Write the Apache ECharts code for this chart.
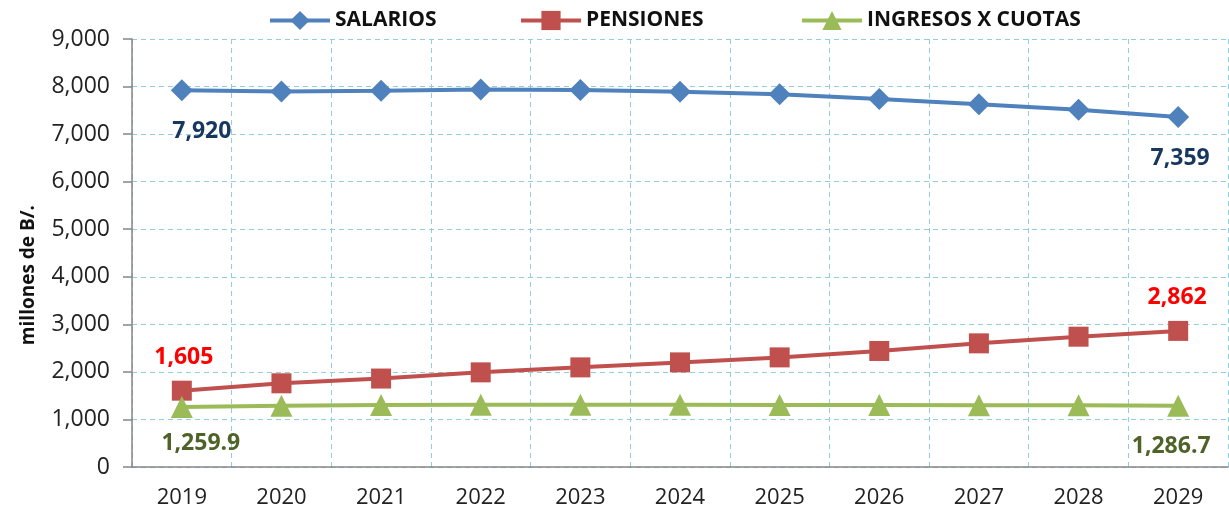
<!DOCTYPE html>
<html>
<head>
<meta charset="utf-8">
<script src="https://cdn.jsdelivr.net/npm/echarts@6/dist/echarts.min.js"></script>
<style>
  html,body{margin:0;padding:0;background:#fff;}
  #main{width:1229px;height:513px;}
</style>
</head>
<body>
<div id="main"></div>
<script>
// datos
var years = ['2019','2020','2021','2022','2023','2024','2025','2026','2027','2028','2029'];
var salarios = [7920, 7895, 7910, 7940, 7925, 7890, 7840, 7740, 7630, 7510, 7359];
var pensiones = [1605, 1760, 1860, 1990, 2095, 2200, 2305, 2440, 2600, 2740, 2862];
var ingresos = [1259.9, 1290, 1305, 1310, 1310, 1310, 1305, 1305, 1300, 1300, 1286.7];
var names = ['SALARIOS', 'PENSIONES', 'INGRESOS X CUOTAS'];

var font = '"Open Sans", "Liberation Sans", sans-serif';

// etiqueta solo en el primer y ultimo punto
function endLabels(arr, fmt, pos, color, offFirst, offLast) {
  return arr.map(function (v, i) {
    if (i === 0 || i === arr.length - 1) {
      return {
        value: v,
        label: {
          show: true, position: pos, distance: 9,
          offset: i === 0 ? offFirst : offLast,
          formatter: fmt, color: color, fontWeight: 'bold', fontSize: 23, fontFamily: font
        }
      };
    }
    return v;
  });
}
var fmt0 = function (p) { return Math.round(p.value).toLocaleString('en-US'); };
var fmt1 = function (p) { return p.value.toLocaleString('en-US', {minimumFractionDigits: 1, maximumFractionDigits: 1}); };

// una leyenda por serie para colocarlas como en el original
var legendLeft = [263, 514, 795];
var legends = names.map(function (n, i) {
  return {
    top: 5, left: legendLeft[i],
    itemWidth: 60, itemHeight: 24,
    lineStyle: {width: 4},
    textStyle: {fontSize: 21, fontWeight: 'bold', color: '#111', fontFamily: font},
    data: [n]
  };
});

var myChart = echarts.init(document.getElementById('main'));
var option = {
  animation: false,
  textStyle: {fontFamily: font},
  legend: legends,
  graphic: [{
    type: 'text', left: 19, top: 205, rotation: Math.PI / 2,
    style: {text: 'millones de B/.', fontSize: 19, fontWeight: 'bold', fill: '#111', fontFamily: font}
  }],
  grid: {left: 132, right: 1, top: 39, bottom: 46},
  xAxis: {
    type: 'category', data: years, boundaryGap: true,
    axisLine: {lineStyle: {color: '#868686', width: 1.5}},
    axisTick: {length: 10, lineStyle: {color: '#868686', width: 1.5}},
    axisLabel: {fontSize: 22, color: '#222', margin: 20, fontFamily: font},
    splitLine: {show: true, lineStyle: {color: '#92CDDC', type: [5, 4], width: 1}}
  },
  yAxis: {
    type: 'value', min: 0, max: 9000, interval: 1000,
    axisLine: {show: true, lineStyle: {color: '#868686', width: 1.5}},
    axisTick: {show: true, length: 9, lineStyle: {color: '#868686', width: 1.5}},
    axisLabel: {fontSize: 23, color: '#222', margin: 22, fontFamily: font,
      formatter: function (v) { return v.toLocaleString('en-US'); }},
    splitLine: {show: true, lineStyle: {color: '#92CDDC', type: [5, 4], width: 1}}
  },
  series: [
    {
      name: names[0], type: 'line', symbol: 'diamond', symbolSize: 22,
      lineStyle: {color: '#4F81BD', width: 4}, itemStyle: {color: '#4F81BD'},
      data: endLabels(salarios, fmt0, 'bottom', '#17375E', [20, 10], [2, 10])
    },
    {
      name: names[1], type: 'line', symbol: 'rect', symbolSize: 20,
      lineStyle: {color: '#C0504D', width: 4}, itemStyle: {color: '#C0504D'},
      data: endLabels(pensiones, fmt0, 'top', '#FF0000', [2, -3], [-1, -3])
    },
    {
      name: names[2], type: 'line', symbol: 'triangle', symbolSize: 22,
      lineStyle: {color: '#9BBB59', width: 4}, itemStyle: {color: '#9BBB59'},
      data: endLabels(ingresos, fmt1, 'bottom', '#4F6228', [19, 5], [-7, 9])
    }
  ]
};
myChart.setOption(option);
</script>
</body>
</html>
